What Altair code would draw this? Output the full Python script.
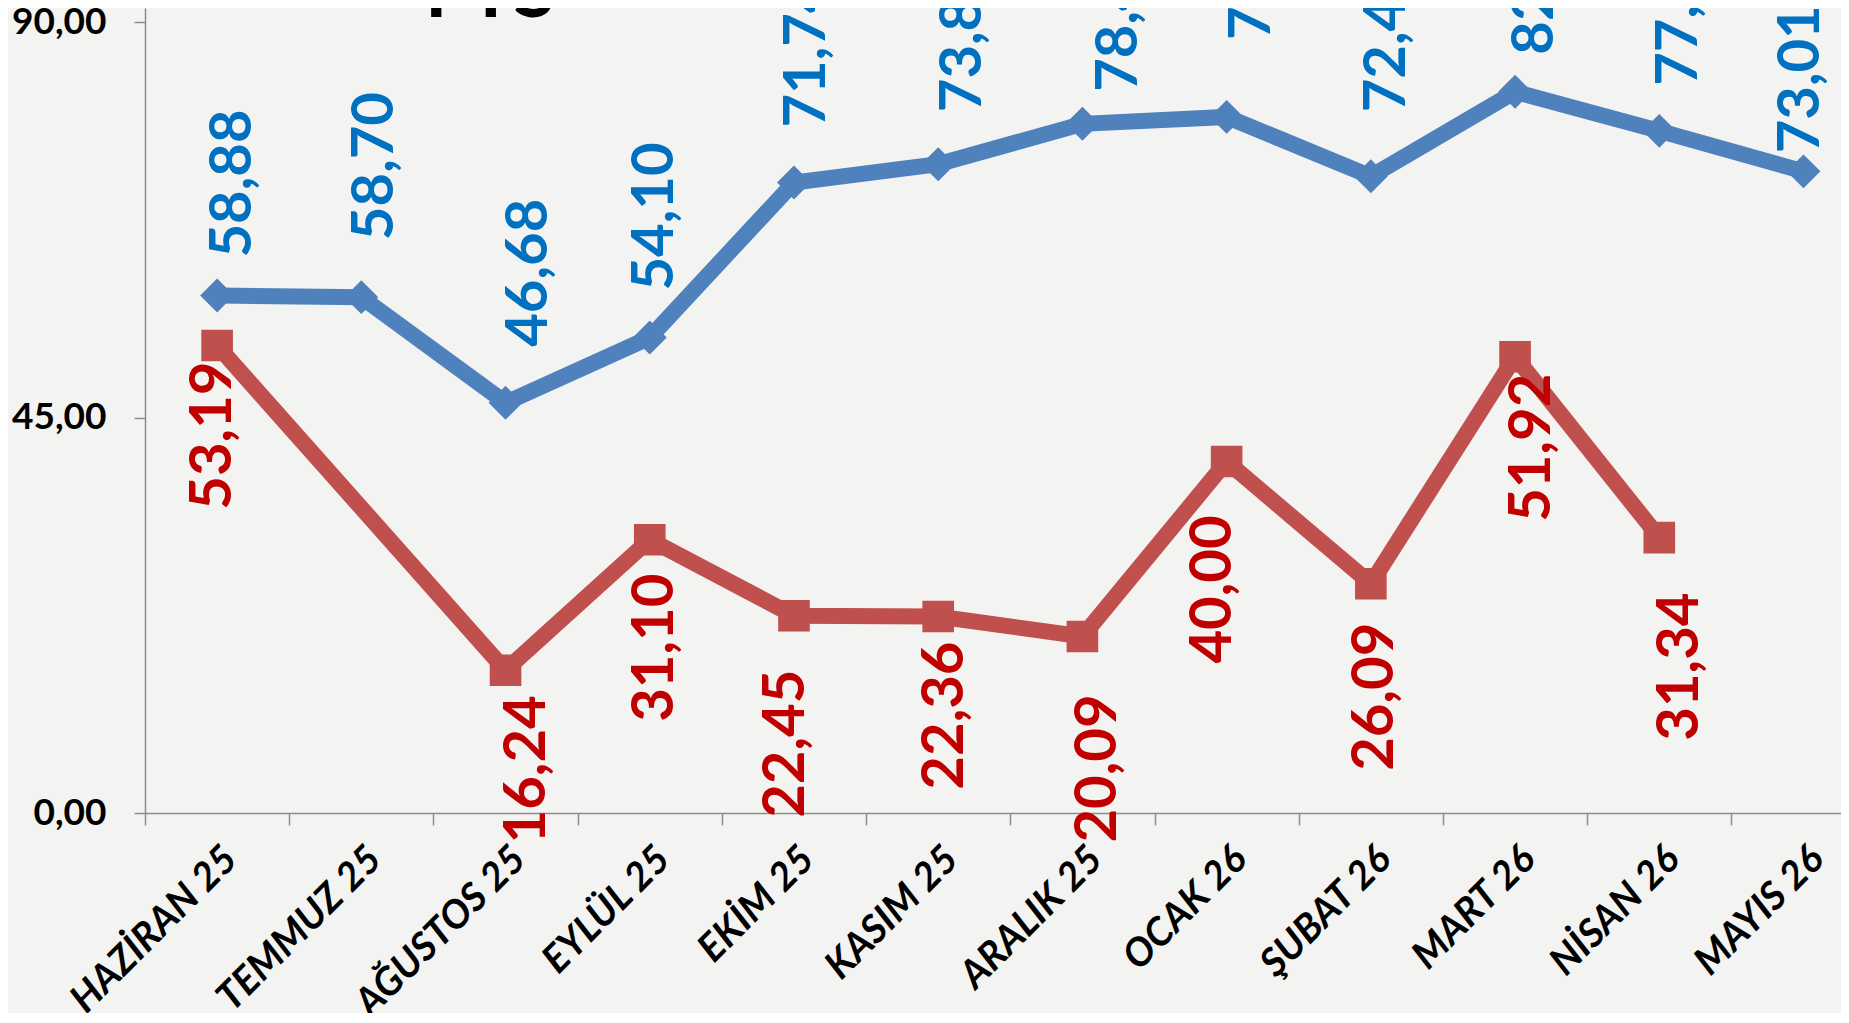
import json
import altair as alt
import pandas as pd

months = ["HAZİRAN 25", "TEMMUZ 25", "AĞUSTOS 25", "EYLÜL 25", "EKİM 25", "KASIM 25",
          "ARALIK 25", "OCAK 26", "ŞUBAT 26", "MART 26", "NİSAN 26", "MAYIS 26"]
blue_vals = [58.88, 58.70, 46.68, 54.10, 71.74, 73.82, 78.42, 79.21, 72.45, 82.07, 77.62, 73.01]
red_vals = [53.19, None, 16.24, 31.10, 22.45, 22.36, 20.09, 40.00, 26.09, 51.92, 31.34, None]
y_ticks = [0, 45, 90]
legend_label = "FTS"

# label placement tweaks in pixels (gap from marker along the text, sideways shift), styling only
blue_label_gap = [41, 60, 59, 50, 58, 55, 35, 80, 67, 40, 48, 21]
blue_label_side = [17, 15, 24, 6, 14, 26, 38, 26, 17, 21, 21, -2]
red_label_gap = [20, 0, 29, 38, 58, 29, 62, 58, 43, 21, 59, 0]
red_label_side = [-3, 0, 22, 6, -7, 8, 17, -13, 5, 18, 22, 0]


def fmt(v):
    return f"{v:.2f}".replace(".", ",")


idx = list(range(len(months)))
blue_df = pd.DataFrame({"i": idx, "v": blue_vals, "lab": [fmt(v) for v in blue_vals]})
red_rows = [(i, v) for i, v in zip(idx, red_vals) if v is not None]
red_df = pd.DataFrame({"i": [r[0] for r in red_rows], "v": [r[1] for r in red_rows],
                       "lab": [fmt(r[1]) for r in red_rows]})

W, H = 1696, 805
XMIN, XMAX = -0.5, 11.26
band = W / (XMAX - XMIN)
x_scale = alt.Scale(domain=[XMIN, XMAX], nice=False, zero=False)
y_scale = alt.Scale(domain=[0, 91.6], nice=False, zero=True)

axis_col = "#8c8c8c"
x_axis = alt.Axis(
    values=idx,
    labelExpr=json.dumps(months, ensure_ascii=False) + "[datum.value]",
    labelAngle=-45, labelFont="Lato", labelFontSize=39, labelFontWeight="bold",
    labelFontStyle="italic", labelColor="black", labelPadding=14, labelLimit=600,
    tickOffset=-band / 2, labelOffset=band / 2, tickSize=12, tickWidth=1.5,
    tickColor=axis_col, domainColor=axis_col, domainWidth=1.5,
    grid=False, title=None, labelOverlap=False, labelFlush=False, labelBound=False,
)
y_axis = alt.Axis(
    values=y_ticks,
    labelExpr="replace(format(datum.value, '.2f'), '.', ',')",
    labelFont="Lato", labelFontSize=37, labelFontWeight="bold", labelColor="black",
    labelPadding=28, tickSize=11, tickWidth=1.5, tickColor=axis_col,
    domainColor=axis_col, domainWidth=1.5, grid=False, title=None,
    labelFlush=False, labelOverlap=False,
)

X = alt.X("i:Q", scale=x_scale, axis=x_axis)
Y = alt.Y("v:Q", scale=y_scale, axis=y_axis)

blue_line = alt.Chart(blue_df).mark_line(color="#4F81BD", strokeWidth=16).encode(x=X, y=Y)
blue_pts = alt.Chart(blue_df).mark_point(shape="diamond", filled=True, size=1150, opacity=1,
                                         color="#4F81BD").encode(x=X, y=Y)
red_line = alt.Chart(red_df).mark_line(color="#C0504D", strokeWidth=16).encode(x=X, y=Y)
red_pts = alt.Chart(red_df).mark_point(shape="square", filled=True, size=1000, opacity=1,
                                       color="#C0504D").encode(x=X, y=Y)

label_layers = []
for k, row in blue_df.iterrows():
    j = int(row["i"])
    label_layers.append(
        alt.Chart(blue_df.iloc[[k]]).mark_text(
            angle=270, align="left", baseline="middle", dx=blue_label_gap[j] - 3,
            dy=blue_label_side[j], font="Lato", fontSize=58, fontWeight="bold",
            color="#0070C0", clip=True,
        ).encode(x=X, y=Y, text="lab:N")
    )
for k, row in red_df.iterrows():
    j = int(row["i"])
    label_layers.append(
        alt.Chart(red_df.iloc[[k]]).mark_text(
            angle=270, align="right", baseline="middle", dx=-(red_label_gap[j] - 4),
            dy=red_label_side[j], font="Lato", fontSize=58, fontWeight="bold",
            color="#C00000",
        ).encode(x=X, y=Y, text="lab:N")
    )

legend_txt = alt.Chart(pd.DataFrame({"t": [legend_label]})).mark_text(
    font="Lato", fontSize=76, fontWeight="bold", align="left", baseline="alphabetic",
    color="black", clip=True,
).encode(x=alt.value(280), y=alt.value(9), text="t:N")

chart = alt.layer(blue_line, red_line, blue_pts, red_pts, *label_layers, legend_txt).properties(
    width=W, height=H,
    autosize=alt.AutoSizeParams(type="none"),
    padding={"left": 137, "top": 0, "right": 0, "bottom": 200},
    background="#f3f3f1",
).configure_view(stroke=None)

chart.save("out.html", embed_options={"renderer": "svg", "actions": False})
